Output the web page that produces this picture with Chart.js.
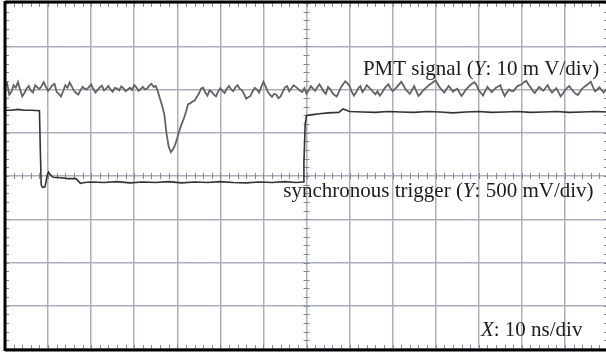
<!DOCTYPE html>
<html>
<head>
<meta charset="utf-8">
<script src="https://cdn.jsdelivr.net/npm/chart.js@4"></script>
<style>
html, body { margin: 0; padding: 0; overflow: hidden; background: #fff; }
#wrap { width: 612px; height: 353px; }
</style>
</head>
<body>
<div id="wrap"><canvas id="myChart" width="612" height="353"></canvas></div>
<script>
// time in ns, levels in screen divisions (0 = centre line)
var pmtTime = [-70,-69.5,-69,-68.5,-68,-67.5,-67,-66.5,-66,-65.5,
  -65,-64.5,-64,-63.5,-63,-62.5,-62,-61.5,-61,-60.5,
  -60,-59.5,-59,-58.5,-58,-57.5,-57,-56.5,-56,-55.5,
  -55,-54.5,-54,-53.5,-53,-52.5,-52,-51.5,-51,-50.5,
  -50,-49.5,-49,-48.5,-48,-47.5,-47,-46.5,-46,-45.5,
  -45,-44.5,-44,-43.5,-43,-42.5,-42,-41.5,-41,-40.5,
  -40,-39.5,-39,-38.5,-38,-37.5,-37,-36.5,-36,-35.5,
  -35,-34.5,-34,-33.5,-33,-32.5,-32,-31.5,-31,-30.5,
  -30,-29.5,-29,-28.5,-28,-27.5,-27,-26.5,-26,-25.5,
  -25,-24.5,-24,-23.5,-23,-22.5,-22,-21.5,-21,-20.5,
  -20,-19.5,-19,-18.5,-18,-17.5,-17,-16.5,-16,-15.5,
  -15,-14.5,-14,-13.5,-13,-12.5,-12,-11.5,-11,-10.5,
  -10,-9.5,-9,-8.5,-8,-7.5,-7,-6.5,-6,-5.5,
  -5,-4.5,-4,-3.5,-3,-2.5,-2,-1.5,-1,-0.5,
  0,0.5,1,1.5,2,2.5,3,3.5,4,4.5,
  5,5.5,6,6.5,7,7.5,8,8.5,9,9.5,
  10,10.5,11,11.5,12,12.5,13,13.5,14,14.5,
  15,15.5,16,16.5,17,17.5,18,18.5,19,19.5,
  20,20.5,21,21.5,22,22.5,23,23.5,24,24.5,
  25,25.5,26,26.5,27,27.5,28,28.5,29,29.5,
  30,30.5,31,31.5,32,32.5,33,33.5,34,34.5,
  35,35.5,36,36.5,37,37.5,38,38.5,39,39.5,
  40,40.5,41,41.5,42,42.5,43,43.5,44,44.5,
  45,45.5,46,46.5,47,47.5,48,48.5,49,49.5,
  50,50.5,51,51.5,52,52.5,53,53.5,54,54.5,
  55,55.5,56,56.5,57,57.5,58,58.5,59,59.5,
  60,60.5,61,61.5,62,62.5,63,63.5,64,64.5,
  65,65.5,66,66.5,67,67.5,68,68.5,69,69.5,
  70];
var pmtLevel = [2.05,2.14,1.88,1.95,2.10,2.04,2.17,2.00,1.84,1.92,
  2.02,2.08,1.97,1.93,2.10,2.05,2.01,2.08,2.17,2.06,
  1.97,2.03,2.10,2.13,1.94,1.90,1.84,1.96,2.10,2.04,
  2.16,2.07,1.97,1.92,1.88,1.98,2.06,2.02,2.00,2.06,
  2.12,2.01,1.93,1.99,2.05,2.09,1.98,2.02,2.08,2.00,
  1.95,2.04,2.02,1.98,2.07,2.03,1.96,2.00,2.04,1.99,
  2.10,2.05,1.97,2.01,2.06,2.00,2.02,2.09,2.13,2.06,
  2.08,1.95,1.78,1.62,1.42,0.98,0.68,0.55,0.62,0.72,
  0.88,1.05,1.20,1.32,1.48,1.66,1.68,1.72,1.74,1.82,
  1.90,2.02,2.04,1.93,1.86,1.98,1.95,1.88,1.84,1.96,
  2.03,1.97,1.92,2.02,2.08,2.00,1.96,2.05,2.10,2.02,
  1.98,1.90,1.79,1.82,1.85,1.96,2.04,2.00,1.93,2.06,
  2.18,2.07,1.95,1.88,1.83,1.90,1.88,1.80,1.84,1.95,
  2.05,2.08,1.96,2.03,2.10,2.06,2.02,1.97,1.94,2.03,
  1.90,1.98,2.08,2.02,1.97,2.05,2.12,2.04,1.95,1.90,
  2.06,2.01,1.92,1.87,1.84,1.94,2.05,2.12,2.19,2.14,
  2.08,1.95,1.86,1.93,2.03,2.08,1.94,2.01,2.10,2.05,
  2.00,1.94,1.89,1.96,1.86,1.92,2.01,2.07,2.12,2.03,
  1.96,2.01,2.06,2.12,2.18,2.10,2.00,1.95,1.90,1.99,
  2.08,1.96,1.85,1.90,1.97,2.02,2.06,2.11,2.14,2.18,
  2.21,2.12,2.04,1.98,1.93,2.01,2.08,2.02,1.95,1.99,
  2.02,1.93,1.85,1.92,2.00,2.05,2.10,2.14,2.17,2.10,
  1.98,1.92,1.86,1.97,2.06,2.00,1.94,1.99,2.04,2.07,
  2.10,1.96,1.85,1.93,2.00,1.97,1.96,2.02,2.08,2.10,
  2.12,2.17,2.20,2.12,2.05,1.98,1.92,1.99,2.06,2.01,
  1.97,2.04,2.10,2.00,1.93,1.98,2.03,1.94,1.84,1.90,
  1.98,2.04,2.08,2.01,1.95,1.90,1.87,1.95,2.02,2.06,
  2.10,2.14,2.18,2.06,1.96,2.00,2.05,1.99,1.93,2.00,
  2.04];

var trigTime = [-70,-68.5,-67,-65.5,-64,-62.0,-61.8,-61.6,-61.3,-60.7,-60.2,-59.9,-59.4,-58.8,
  -57,-55.5,-53.5,-52.5,-51.5,-50,-47,-44,-41,-38,-35,-32,-29,-26,-23,-20,-17,-14,-11,-8,-5,-2.5,
  -0.8,-0.6,-0.3,0,1.5,3,5,7.5,8.5,10,13,16,19,22,25,28,31,34,37,40,43,46,49,52,55,58,61,64,67,70];
var trigLevel = [1.52,1.52,1.54,1.52,1.52,1.51,0.60,-0.20,-0.26,-0.25,0.02,0.09,0.02,-0.03,
  -0.04,-0.06,-0.06,-0.17,-0.15,-0.14,-0.15,-0.13,-0.16,-0.14,-0.15,-0.13,-0.16,-0.14,-0.15,-0.13,-0.15,-0.16,-0.14,-0.15,-0.13,-0.15,
  -0.14,0.30,1.20,1.40,1.42,1.44,1.46,1.47,1.55,1.49,1.48,1.47,1.49,1.48,1.47,1.49,1.48,1.46,1.48,1.49,1.47,1.48,1.49,1.47,1.48,1.49,1.47,1.48,1.49,1.48];

// annotation texts: [x in ns, y in div, parts]
var notes = [
  [13.1, 2.33, [["PMT signal (", false], ["Y", true], [": 10 m V/div)", false]]],
  [-5.4, -0.48, [["synchronous trigger (", false], ["Y", true], [": 500 mV/div)", false]]],
  [40.5, -3.69, [["X", true], [": 10 ns/div", false]]]
];

function pts(xs, ys) {
  return xs.map(function (x, i) { return { x: x, y: ys[i] }; });
}

var scopeDecor = {
  id: 'scopeDecor',
  beforeDatasetsDraw: function (chart) {
    var ctx = chart.ctx, a = chart.chartArea;
    var sx = chart.scales.x, sy = chart.scales.y;
    var cx = sx.getPixelForValue(0), cy = sy.getPixelForValue(0);
    ctx.save();
    ctx.strokeStyle = '#7f8896';
    ctx.lineWidth = 1;
    ctx.beginPath();
    for (var t = -70; t <= 70; t += 2) {
      var px = Math.round(sx.getPixelForValue(t)) + 0.5;
      ctx.moveTo(px, a.top); ctx.lineTo(px, a.top + 4);
      ctx.moveTo(px, a.bottom - 4); ctx.lineTo(px, a.bottom);
      ctx.moveTo(px, cy - 3); ctx.lineTo(px, cy + 3);
    }
    for (var k = -20; k <= 20; k++) {
      var py = Math.round(sy.getPixelForValue(k / 5)) + 0.5;
      ctx.moveTo(a.left, py); ctx.lineTo(a.left + 4, py);
      ctx.moveTo(a.right - 4, py); ctx.lineTo(a.right, py);
      ctx.moveTo(cx - 3, py); ctx.lineTo(cx + 3, py);
    }
    ctx.stroke();
    ctx.restore();
  },
  afterDatasetsDraw: function (chart) {
    var ctx = chart.ctx, a = chart.chartArea;
    var sx = chart.scales.x, sy = chart.scales.y;
    ctx.save();
    ctx.strokeStyle = '#000';
    ctx.lineWidth = 3;
    ctx.beginPath();
    ctx.moveTo(a.left, a.top - 1); ctx.lineTo(a.right + 10, a.top - 1);
    ctx.moveTo(a.left, a.top - 2); ctx.lineTo(a.left, a.bottom + 2);
    ctx.moveTo(a.left, a.bottom + 1); ctx.lineTo(a.right + 10, a.bottom + 1);
    ctx.stroke();

    ctx.fillStyle = '#1c1c1c';
    ctx.textBaseline = 'alphabetic';
    notes.forEach(function (n) {
      var x = sx.getPixelForValue(n[0]), y = sy.getPixelForValue(n[1]);
      n[2].forEach(function (p) {
        ctx.font = (p[1] ? 'italic ' : '') + '21px "Liberation Serif", "Times New Roman", serif';
        ctx.fillText(p[0], x, y);
        x += ctx.measureText(p[0]).width;
      });
    });
    ctx.restore();
  }
};

var ctx = document.getElementById("myChart");
var myChart = new Chart(ctx, {
  type: 'line',
  data: {
    datasets: [{
      label: "PMT signal",
      data: pts(pmtTime, pmtLevel),
      borderColor: "#626262",
      borderWidth: 1.8,
      pointRadius: 0,
      tension: 0,
      fill: false
    }, {
      label: "synchronous trigger",
      data: pts(trigTime, trigLevel),
      borderColor: "#333333",
      borderWidth: 1.6,
      pointRadius: 0,
      tension: 0,
      fill: false
    }]
  },
  options: {
    responsive: false,
    animation: false,
    devicePixelRatio: 1,
    layout: { padding: { left: 5, right: 4, top: 3, bottom: 4 } },
    plugins: { legend: { display: false }, tooltip: { enabled: false } },
    scales: {
      x: {
        type: 'linear', min: -70, max: 70,
        ticks: { display: false, stepSize: 10 },
        grid: { color: '#a9b0bc', lineWidth: 1.5, drawTicks: false },
        border: { display: false }
      },
      y: {
        type: 'linear', min: -4, max: 4,
        ticks: { display: false, stepSize: 1 },
        grid: { color: '#a9b0bc', lineWidth: 1.5, drawTicks: false },
        border: { display: false }
      }
    }
  },
  plugins: [scopeDecor]
});
</script>
</body>
</html>
